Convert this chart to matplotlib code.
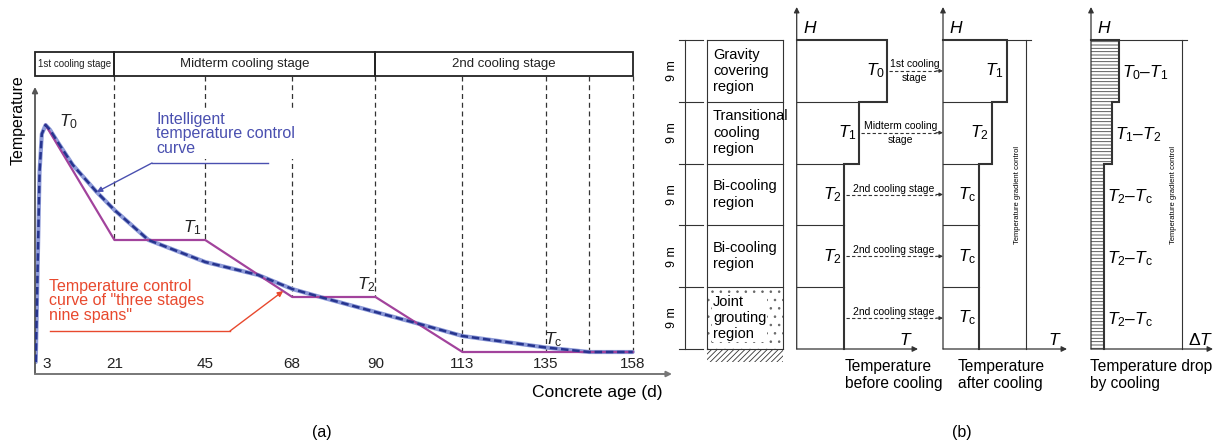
import numpy as np
import matplotlib
matplotlib.use('Agg')
import matplotlib.pyplot as plt
from matplotlib.patches import Rectangle

plt.rcParams['font.family'] = ['Liberation Sans', 'DejaVu Sans']
plt.rcParams['mathtext.fontset'] = 'custom'
plt.rcParams['mathtext.rm'] = 'Liberation Sans'
plt.rcParams['mathtext.it'] = 'Liberation Sans:italic'
plt.rcParams['hatch.linewidth'] = 0.6

# ---- panel (a) data: concrete age (d) vs temperature (relative) ----
tick_days = [3, 21, 45, 68, 90, 113, 135, 158]
guide_days = [21, 45, 68, 90, 113, 135, 146.5, 158]
stage_names = ['1st cooling stage', 'Midterm cooling stage', '2nd cooling stage']
stage_edges = [0, 21, 90, 158]
T0, T1, T2, Tc = 32.7, 21.2, 15.5, 10.0
step_days = [2.8, 21, 45, 68, 90, 113, 158]
step_temp = [T0, T1, T1, T2, T2, Tc, Tc]
smart_days = [0.2, 1.2, 1.8, 2.8, 4, 6, 10, 16.3, 21, 30, 45, 59, 68, 75.4, 90,
              100.7, 113, 135, 146.5, 158]
smart_temp = [9.0, 28.0, 31.8, 32.7, 32.2, 31.0, 28.7, 26.0, 24.2, 21.2, 19.0, 17.7,
              16.3, 15.5, 14.0, 12.9, 11.6, 10.45, 10.0, 10.0]

# ---- panel (b) data: five 9 m regions ----
region_names = ['Gravity\ncovering\nregion', 'Transitional\ncooling\nregion',
                'Bi-cooling\nregion', 'Bi-cooling\nregion', 'Joint\ngrouting\nregion']
region_depth = [9, 9, 9, 9, 9]
stage_notes = ['1st cooling\nstage', 'Midterm cooling\nstage', '2nd cooling stage',
               '2nd cooling stage', '2nd cooling stage']
before_level = [9.0, 6.2, 4.75, 4.75, 4.75]
after_level = [6.37, 4.9, 3.6, 3.6, 3.6]
drop_level = [2.8, 2.07, 1.3, 1.3, 1.3]
before_labels = ['$T_0$', '$T_1$', '$T_2$', '$T_2$', '']
after_labels = ['$T_1$', '$T_2$', r'$T_\mathrm{c}$', r'$T_\mathrm{c}$', r'$T_\mathrm{c}$']
drop_labels = ['$T_0$\u2013$T_1$', '$T_1$\u2013$T_2$', r'$T_2$' + '\u2013' + r'$T_\mathrm{c}$',
               r'$T_2$' + '\u2013' + r'$T_\mathrm{c}$', r'$T_2$' + '\u2013' + r'$T_\mathrm{c}$']

W, H = 1218, 445
fig = plt.figure(figsize=(W / 100, H / 100), dpi=100)
bg = fig.add_axes([0, 0, 1, 1])
bg.set_xlim(0, W)
bg.set_ylim(H, 0)
bg.axis('off')

ink = '#333333'
purple = '#a2439c'
navy = '#27358f'
red = '#e8492e'
arrow_kw = dict(arrowstyle='-|>', color=ink, lw=0.9, mutation_scale=8, shrinkA=0, shrinkB=0)

# ---------------- panel (a) ----------------
px_per_day = 3.783
def dx(px):
    return (px - 35) / px_per_day
def ty(py):
    return 10 + (352 - py) / 10

axa = fig.add_axes([35 / W, 1 - 374 / H, 645 / W, 334 / H])
axa.set_xlim(0, dx(680))
axa.set_ylim(ty(374), ty(40))
axa.axis('off')

hdr_lo, hdr_hi = ty(76), ty(52)
for i, name in enumerate(stage_names):
    a, b = stage_edges[i], stage_edges[i + 1]
    axa.add_patch(Rectangle((a, hdr_lo), b - a, hdr_hi - hdr_lo, fill=False,
                            lw=1.3, edgecolor='#222222', clip_on=False))
    axa.text((a + b) / 2, (hdr_lo + hdr_hi) / 2, name, ha='center', va='center',
             fontsize=7.0 if i == 0 else 9.5, color='#222222')

for d in guide_days:
    axa.plot([d, d], [hdr_lo, np.interp(d, step_days, step_temp)], ls=(0, (4, 3)),
             color=ink, lw=0.9, zorder=2)

axa.plot(smart_days, smart_temp, color='#8d9ad8', lw=3.0, zorder=3, solid_capstyle='round')
axa.plot(smart_days, smart_temp, color=navy, lw=1.8, ls=(0, (3, 1.5)), zorder=4)
axa.plot(step_days, step_temp, color=purple, lw=1.6, zorder=3.5)

# axes arrows
axa.annotate('', xy=(0, ty(87)), xytext=(0, ty(374)), arrowprops=dict(arrow_kw, color='#555555', lw=1.3),
             annotation_clip=False)
axa.annotate('', xy=(dx(672), ty(374)), xytext=(0, ty(374)),
             arrowprops=dict(arrow_kw, color='#777777', lw=1.4), annotation_clip=False)
for d in tick_days:
    axa.text(d, ty(364), str(d), ha='center', va='center', fontsize=11, color='#222222')

for lab, (x, y) in zip(['$T_0$', '$T_1$', '$T_2$', r'$T_\mathrm{c}$'],
                       [(68, 122), (192, 228), (366, 285), (553, 340)]):
    axa.text(dx(x), ty(y), lab, ha='center', va='center', fontsize=12.5, color='#222222')

# intelligent curve label
axa.text(dx(156), ty(112), 'Intelligent\ntemperature control\ncurve', ha='left', va='top',
         fontsize=11.5, linespacing=0.95, color='#4a50b0', zorder=6,
         bbox=dict(facecolor='white', edgecolor='none', pad=2))
axa.plot([dx(268), dx(152)], [ty(163), ty(163)], color='#4a50b0', lw=1.0, zorder=6)
axa.annotate('', xy=(16.3, np.interp(16.3, smart_days, smart_temp)), xytext=(dx(152), ty(163)),
             arrowprops=dict(arrow_kw, color='#4a50b0', lw=1.0), zorder=6)

# three stages label
axa.text(dx(49), ty(279), 'Temperature control\ncurve of "three stages\nnine spans"', ha='left',
         va='top', fontsize=11.5, linespacing=0.95, color=red, zorder=6)
axa.plot([dx(50), dx(230)], [ty(331), ty(331)], color=red, lw=1.0, zorder=6)
axa.annotate('', xy=(65.6, np.interp(65.6, step_days, step_temp)), xytext=(dx(230), ty(331)),
             arrowprops=dict(arrow_kw, color=red, lw=1.0), zorder=6)

fig.text(18 / W, 1 - 120 / H, 'Temperature', rotation=90, ha='center', va='center', fontsize=11.5)
fig.text(597 / W, 1 - 393 / H, 'Concrete age (d)', ha='center', va='center', fontsize=12.5)
fig.text(322 / W, 1 - 433 / H, '(a)', ha='center', va='center', fontsize=11.5)

# ---------------- panel (b) ----------------
top, base = 40, 349
px_per_m = (base - top) / sum(region_depth)
px_per_level = 10
bounds = top + np.concatenate([[0], np.cumsum(region_depth)]) * px_per_m
centers = (bounds[:-1] + bounds[1:]) / 2
thin = dict(color=ink, lw=0.8)

# region column
box_l, box_r = 706.7, 783.3
bg.plot([685, 685], [bounds[0], bounds[-1]], **thin)
for yb in bounds:
    bg.plot([679, 703], [yb, yb], **thin)
    bg.plot([box_l, box_r], [yb, yb], **thin)
bg.plot([box_l, box_l], [bounds[0], bounds[-1]], **thin)
bg.plot([box_r, box_r], [bounds[0], bounds[-1]], **thin)
bg.add_patch(Rectangle((box_l, bounds[-2]), box_r - box_l, bounds[-1] - bounds[-2], fill=False,
                       hatch='..', lw=0, edgecolor='#666666'))
bg.add_patch(Rectangle((box_l, base), box_r - box_l, 13, fill=False, hatch='//////', lw=0,
                       edgecolor=ink))
for i, name in enumerate(region_names):
    bg.text(672, centers[i], f'{region_depth[i]} m', rotation=90, ha='center', va='center', fontsize=9)
    kw = dict(bbox=dict(facecolor='white', edgecolor='none', pad=0.5)) if i == 4 else {}
    bg.text(713, centers[i], name, ha='left', va='center', fontsize=10.5, linespacing=1.2, **kw)


def profile(x0, levels, x_end, axis_label, hatch=None):
    xs = [x0 + v * px_per_level for v in levels]
    px, py = [x0], [top]
    for i, xi in enumerate(xs):
        px += [xi, xi]
        py += [bounds[i], bounds[i + 1]]
        if hatch:
            bg.add_patch(Rectangle((x0, bounds[i]), xi - x0, bounds[i + 1] - bounds[i], fill=False,
                                   hatch=hatch, lw=0, edgecolor='#444444'))
        elif i > 0:
            bg.plot([x0, xi], [bounds[i], bounds[i]], **thin)
    bg.plot(px, py, color=ink, lw=1.5, solid_joinstyle='miter')
    bg.annotate('', xy=(x0, 7), xytext=(x0, base), arrowprops=arrow_kw)
    bg.annotate('', xy=(x_end, base), xytext=(x0, base), arrowprops=arrow_kw)
    bg.text(x0 + 6, 28, '$H$', ha='left', va='center', fontsize=12.5)
    bg.text(x_end - 12, 340, axis_label, ha='center', va='center', fontsize=12.5)
    return xs


xb = profile(796.7, before_level, 918, '$T$')
xa = profile(943, after_level, 1067, '$T$')
xd = profile(1091, drop_level, 1213, r'$\Delta T$', hatch='-----')

for i in range(5):
    if before_labels[i]:
        bg.text(xb[i] - 2, centers[i], before_labels[i], ha='right', va='center', fontsize=12.5)
    bg.text(xa[i] - 3, centers[i], after_labels[i], ha='right', va='center', fontsize=12.5)
    bg.text(xd[i] + 3, centers[i] + 2, drop_labels[i], ha='left', va='center', fontsize=12.5)
    # dashed transfer arrows
    bg.plot([xb[i] + 2, 936], [centers[i], centers[i]], ls=(0, (3, 2)), color=ink, lw=0.8)
    bg.annotate('', xy=(943, centers[i]), xytext=(936, centers[i]),
                arrowprops=dict(arrow_kw, lw=0.8, mutation_scale=5))
    mid = (xb[i] + 943) / 2
    if '\n' in stage_notes[i]:
        l1, l2 = stage_notes[i].split('\n')
        bg.text(mid, centers[i] - 7, l1, ha='center', va='center', fontsize=7.5)
        bg.text(mid, centers[i] + 7, l2, ha='center', va='center', fontsize=7.5)
    else:
        bg.text(mid, centers[i] - 6, stage_notes[i], ha='center', va='center', fontsize=7.5)

# temperature gradient dimension lines
for xs, xdim in [(xa, 1025.7), (xd, 1181.7)]:
    bg.plot([xdim, xdim], [top, base], **thin)
    bg.plot([xs[0], xdim + 5], [top, top], **thin)
    bg.text(xdim - 8, (top + base) / 2, 'Temperature gradient control', rotation=90,
            ha='center', va='center', fontsize=5.5)

for x, lab in [(845, 'Temperature\nbefore cooling'), (958, 'Temperature\nafter cooling'),
               (1090, 'Temperature drop\nby cooling')]:
    bg.text(x, 375, lab, ha='left', va='center', fontsize=11.2, linespacing=1.1)
fig.text(962 / W, 1 - 433 / H, '(b)', ha='center', va='center', fontsize=11.5)

fig.savefig('out.png', dpi=100)
